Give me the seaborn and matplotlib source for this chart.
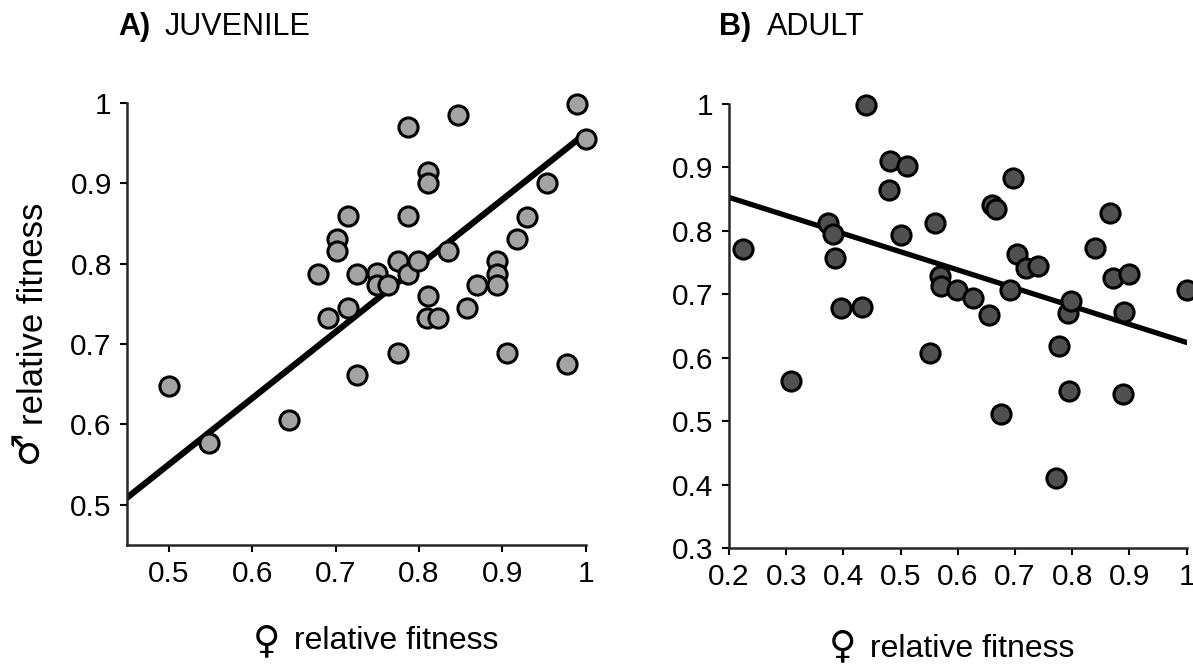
import matplotlib
matplotlib.use("Agg")
import matplotlib.pyplot as plt
import numpy as np
import pandas as pd
import seaborn as sns

# A) juvenile: female vs male relative fitness
juv_female = [0.500, 0.548, 0.644, 0.679, 0.691, 0.702, 0.702, 0.715, 0.715, 0.726,
              0.726, 0.750, 0.750, 0.763, 0.775, 0.775, 0.787, 0.787, 0.787, 0.799,
              0.811, 0.811, 0.811, 0.810, 0.823, 0.835, 0.847, 0.858, 0.870, 0.893,
              0.893, 0.893, 0.905, 0.917, 0.929, 0.953, 0.977, 0.989, 1.000]
juv_male = [0.648, 0.577, 0.605, 0.787, 0.732, 0.831, 0.816, 0.859, 0.745, 0.787,
            0.661, 0.788, 0.773, 0.773, 0.803, 0.689, 0.970, 0.859, 0.787, 0.803,
            0.914, 0.900, 0.759, 0.732, 0.732, 0.816, 0.985, 0.745, 0.773, 0.803,
            0.787, 0.773, 0.689, 0.830, 0.858, 0.900, 0.675, 0.998, 0.955]
juv_fit = [0.138, 0.824]  # intercept, slope of drawn line

# B) adult
adult_female = [0.224, 0.308, 0.373, 0.382, 0.385, 0.395, 0.433, 0.439, 0.480, 0.482,
                0.511, 0.500, 0.552, 0.560, 0.569, 0.570, 0.599, 0.626, 0.654, 0.659,
                0.666, 0.676, 0.691, 0.697, 0.704, 0.719, 0.741, 0.771, 0.777, 0.793,
                0.798, 0.795, 0.839, 0.866, 0.871, 0.888, 0.890, 0.899, 1.000]
adult_male = [0.772, 0.564, 0.813, 0.795, 0.757, 0.678, 0.680, 0.999, 0.865, 0.910,
              0.902, 0.794, 0.607, 0.812, 0.729, 0.713, 0.706, 0.694, 0.667, 0.840,
              0.834, 0.512, 0.707, 0.883, 0.764, 0.741, 0.744, 0.411, 0.619, 0.671,
              0.689, 0.547, 0.773, 0.828, 0.725, 0.542, 0.672, 0.732, 0.707]
adult_fit = [0.910, -0.286]

juv_ticks_x = [0.5, 0.6, 0.7, 0.8, 0.9, 1.0]
juv_ticks_y = [0.5, 0.6, 0.7, 0.8, 0.9, 1.0]
adult_ticks_x = [0.2, 0.3, 0.4, 0.5, 0.6, 0.7, 0.8, 0.9, 1.0]
adult_ticks_y = [0.3, 0.4, 0.5, 0.6, 0.7, 0.8, 0.9, 1.0]


def fmt(v):
    return "1" if v == 1.0 else f"{v:.1f}"


sns.set_theme(style="ticks")
plt.rcParams["font.family"] = ["Liberation Sans", "DejaVu Sans"]
plt.rcParams["text.color"] = "black"
plt.rcParams["axes.labelcolor"] = "black"
plt.rcParams["axes.linewidth"] = 1.8
plt.rcParams["xtick.major.width"] = 1.5
plt.rcParams["ytick.major.width"] = 1.5
plt.rcParams["xtick.major.size"] = 5
plt.rcParams["ytick.major.size"] = 5

fig = plt.figure(figsize=(11.93, 6.65), dpi=100)
ax_a = fig.add_axes([0.1065, 0.1805, 0.3845, 0.6651])
ax_b = fig.add_axes([0.611, 0.176, 0.3837, 0.6676])

df_a = pd.DataFrame({"female": juv_female, "male": juv_male})
df_b = pd.DataFrame({"female": adult_female, "male": adult_male})

panels = [
    (ax_a, df_a, juv_fit, (0.45, 1.0), (0.45, 1.0), juv_ticks_x, juv_ticks_y, "#a3a3a3", 4.5),
    (ax_b, df_b, adult_fit, (0.2, 1.0), (0.3, 1.0), adult_ticks_x, adult_ticks_y, "#505050", 3.8),
]

for ax, df, fit, xlim, ylim, tx, ty, fill, lw in panels:
    xs = np.array(xlim)
    sns.lineplot(x=xs, y=fit[0] + fit[1] * xs, ax=ax, color="black", lw=lw, zorder=2)
    sns.scatterplot(data=df, x="female", y="male", ax=ax, s=190, color=fill,
                    edgecolor="black", linewidth=2.2, zorder=3, clip_on=False)
    ax.set_xlim(*xlim)
    ax.set_ylim(*ylim)
    ax.set_xticks(tx)
    ax.set_xticklabels([fmt(v) for v in tx])
    ax.set_yticks(ty)
    ax.set_yticklabels([fmt(v) for v in ty])
    ax.tick_params(labelsize=21.5, colors="black", pad=6)
    ax.set_xlabel("")
    ax.set_ylabel("")
    sns.despine(ax=ax)

# axis labels with enlarged sex symbols
sym = dict(ha="center", va="center", family=["DejaVu Sans"])
ax_a.text(0.586, -0.217, "relative fitness", transform=ax_a.transAxes,
          fontsize=23, ha="center", va="center")
ax_a.text(0.305, -0.220, "\u2640", transform=ax_a.transAxes, fontsize=27, **sym)
ax_b.text(0.531, -0.227, "relative fitness", transform=ax_b.transAxes,
          fontsize=23, ha="center", va="center")
ax_b.text(0.249, -0.224, "\u2640", transform=ax_b.transAxes, fontsize=27, **sym)
ax_a.text(-0.205, 0.523, "relative fitness", transform=ax_a.transAxes,
          fontsize=25, ha="center", va="center", rotation=90)
ax_a.text(-0.218, 0.222, "\u2642", transform=ax_a.transAxes, fontsize=27,
          rotation=90, **sym)

fig.text(0.099, 0.959, "A)", fontsize=22, fontweight="bold", va="center", ha="left")
fig.text(0.138, 0.959, "JUVENILE", fontsize=22, va="center", ha="left")
fig.text(0.603, 0.959, "B)", fontsize=22, fontweight="bold", va="center", ha="left")
fig.text(0.643, 0.959, "ADULT", fontsize=22, va="center", ha="left")

fig.savefig("out.png", dpi=100)
